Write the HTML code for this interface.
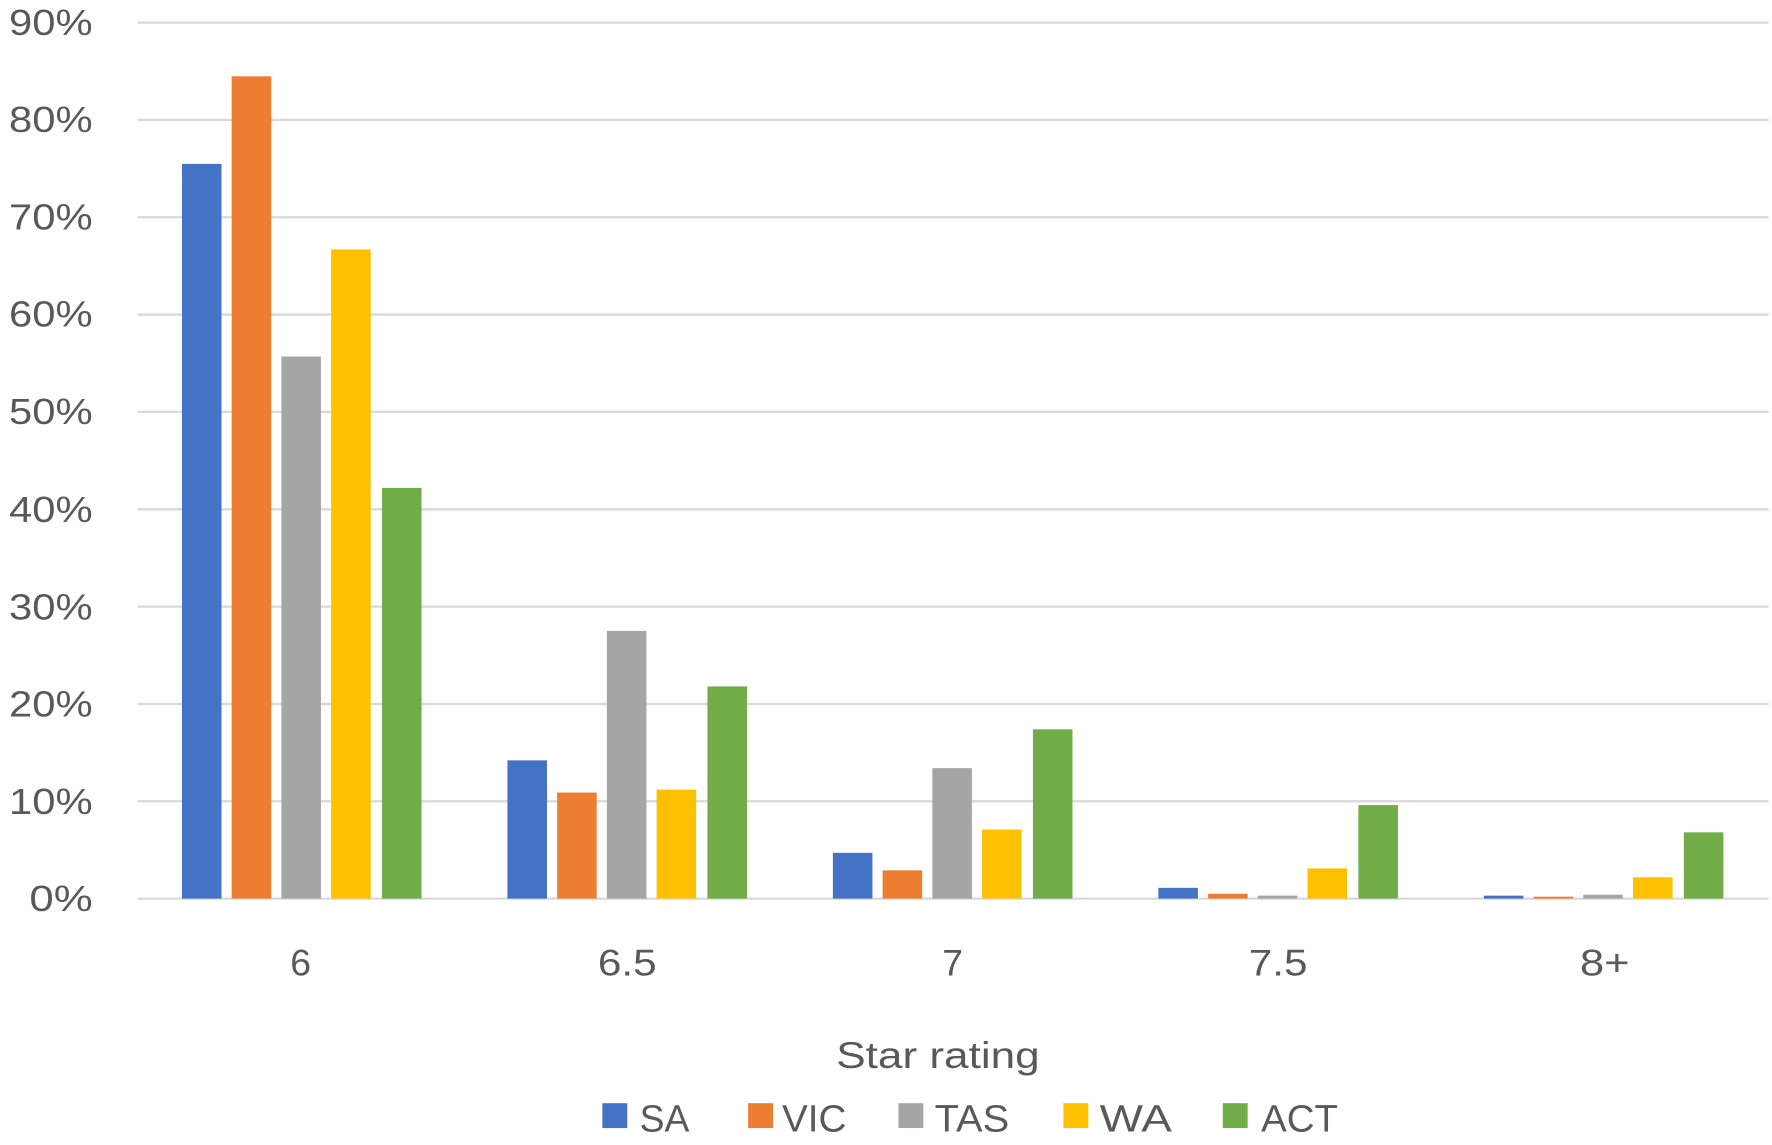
<!DOCTYPE html>
<html><head><style>html,body{margin:0;padding:0;background:#fff}svg{display:block}</style></head>
<body>
<svg width="1772" height="1145" viewBox="0 0 1568 1013" preserveAspectRatio="none" xmlns="http://www.w3.org/2000/svg" font-family="Liberation Sans, sans-serif" fill="#595959">
<g stroke="#d9d9d9" stroke-width="2">
<line x1="122" x2="1565" y1="20" y2="20"/><line x1="122" x2="1565" y1="106.1" y2="106.1"/><line x1="122" x2="1565" y1="192.2" y2="192.2"/><line x1="122" x2="1565" y1="278.3" y2="278.3"/><line x1="122" x2="1565" y1="364.4" y2="364.4"/><line x1="122" x2="1565" y1="450.6" y2="450.6"/><line x1="122" x2="1565" y1="536.7" y2="536.7"/><line x1="122" x2="1565" y1="622.8" y2="622.8"/><line x1="122" x2="1565" y1="708.9" y2="708.9"/><line x1="122" x2="1565" y1="795" y2="795"/>
</g>
<g font-size="32" text-anchor="end">
<text x="82" y="31" textLength="74" lengthAdjust="spacingAndGlyphs">90%</text>
<text x="82" y="117" textLength="74" lengthAdjust="spacingAndGlyphs">80%</text>
<text x="82" y="203" textLength="74" lengthAdjust="spacingAndGlyphs">70%</text>
<text x="82" y="289" textLength="74" lengthAdjust="spacingAndGlyphs">60%</text>
<text x="82" y="375" textLength="74" lengthAdjust="spacingAndGlyphs">50%</text>
<text x="82" y="462" textLength="74" lengthAdjust="spacingAndGlyphs">40%</text>
<text x="82" y="548" textLength="74" lengthAdjust="spacingAndGlyphs">30%</text>
<text x="82" y="634" textLength="74" lengthAdjust="spacingAndGlyphs">20%</text>
<text x="82" y="720" textLength="74" lengthAdjust="spacingAndGlyphs">10%</text>
<text x="82" y="806" textLength="56" lengthAdjust="spacingAndGlyphs">0%</text>
</g>
<g id="bars"></g>
<g font-size="33" text-anchor="middle">
<text x="266" y="863">6</text><text x="555" y="863" textLength="52" lengthAdjust="spacingAndGlyphs">6.5</text><text x="843" y="863">7</text><text x="1131" y="863" textLength="52" lengthAdjust="spacingAndGlyphs">7.5</text><text x="1420" y="863" textLength="44" lengthAdjust="spacingAndGlyphs">8+</text>
<text x="830" y="945" textLength="180" lengthAdjust="spacingAndGlyphs">Star rating</text>
</g>
<g font-size="34">
<rect x="533" y="976" width="22" height="22" fill="#4472c4"/><text x="566" y="1001" textLength="44" lengthAdjust="spacingAndGlyphs">SA</text>
<rect x="662" y="976" width="22" height="22" fill="#ed7d31"/><text x="692" y="1001" textLength="57" lengthAdjust="spacingAndGlyphs">VIC</text>
<rect x="795" y="976" width="22" height="22" fill="#a5a5a5"/><text x="827" y="1001" textLength="66" lengthAdjust="spacingAndGlyphs">TAS</text>
<rect x="941" y="976" width="22" height="22" fill="#ffc000"/><text x="973" y="1001" textLength="64" lengthAdjust="spacingAndGlyphs">WA</text>
<rect x="1082" y="976" width="22" height="22" fill="#70ad47"/><text x="1116" y="1001" textLength="68" lengthAdjust="spacingAndGlyphs">ACT</text>
</g>
<g>
<rect x="161" y="145.0" width="35" height="650.0" fill="#4472c4"/>
<rect x="205" y="67.5" width="35" height="727.5" fill="#ed7d31"/>
<rect x="249" y="315.4" width="35" height="479.6" fill="#a5a5a5"/>
<rect x="293" y="220.7" width="35" height="574.3" fill="#ffc000"/>
<rect x="338" y="431.7" width="35" height="363.3" fill="#70ad47"/>

<rect x="449" y="672.7" width="35" height="122.3" fill="#4472c4"/>
<rect x="493" y="701.2" width="35" height="93.8" fill="#ed7d31"/>
<rect x="537" y="558.2" width="35" height="236.8" fill="#a5a5a5"/>
<rect x="581" y="698.6" width="35" height="96.4" fill="#ffc000"/>
<rect x="626" y="607.3" width="35" height="187.7" fill="#70ad47"/>

<rect x="737" y="754.5" width="35" height="40.5" fill="#4472c4"/>
<rect x="781" y="770.0" width="35" height="25.0" fill="#ed7d31"/>
<rect x="825" y="679.6" width="35" height="115.4" fill="#a5a5a5"/>
<rect x="869" y="733.9" width="35" height="61.1" fill="#ffc000"/>
<rect x="914" y="645.2" width="35" height="149.8" fill="#70ad47"/>

<rect x="1025" y="785.5" width="35" height="9.5" fill="#4472c4"/>
<rect x="1069" y="790.7" width="35" height="4.3" fill="#ed7d31"/>
<rect x="1113" y="792.4" width="35" height="2.6" fill="#a5a5a5"/>
<rect x="1157" y="768.3" width="35" height="26.7" fill="#ffc000"/>
<rect x="1202" y="712.3" width="35" height="82.7" fill="#70ad47"/>

<rect x="1313" y="792.4" width="35" height="2.6" fill="#4472c4"/>
<rect x="1357" y="793.3" width="35" height="1.7" fill="#ed7d31"/>
<rect x="1401" y="791.6" width="35" height="3.4" fill="#a5a5a5"/>
<rect x="1445" y="776.1" width="35" height="18.9" fill="#ffc000"/>
<rect x="1490" y="736.4" width="35" height="58.6" fill="#70ad47"/>
</g>
</svg>
</body></html>
